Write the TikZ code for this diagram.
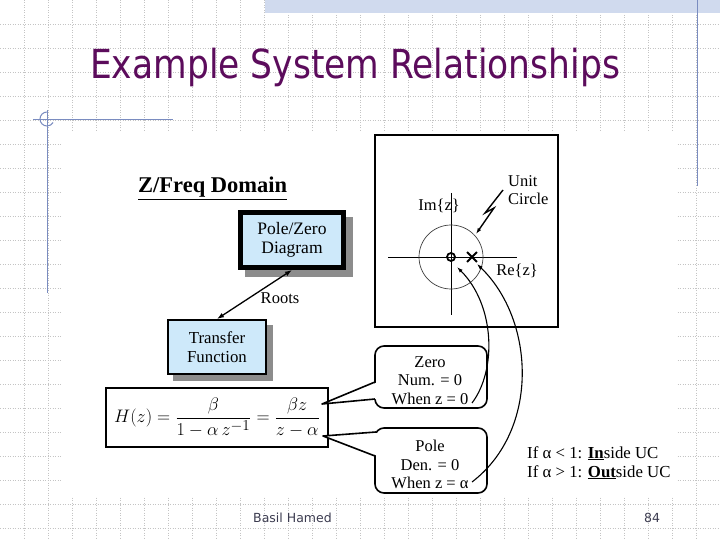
\documentclass[tikz,border=0pt]{standalone}
\usepackage{fontspec}
\setmainfont{Liberation Serif}
\newfontfamily\sansf{DejaVu Sans}
\usetikzlibrary{arrows.meta,shapes.misc}
\definecolor{titlepurple}{RGB}{92,12,92}
\definecolor{deco}{RGB}{122,140,192}
\definecolor{band}{RGB}{208,218,238}
\definecolor{gridc}{RGB}{196,196,196}
\definecolor{boxfill}{RGB}{206,233,250}
\definecolor{shadowc}{RGB}{140,140,140}
\definecolor{footc}{RGB}{60,60,80}
\begin{document}
\begin{tikzpicture}[x=1pt,y=-1pt,
  lbl/.style={font=\fontsize{16.5}{18.5}\selectfont, inner sep=0pt, align=center},
  gridline/.style={gridc, dash pattern=on 1pt off 1.5pt, line width=0.6pt},
  decoline/.style={deco, line width=1pt},
  tip/.style={-{Latex[length=6pt,width=4pt]}},
  callout/.style={draw, fill=white, line width=1.6pt, rounded corners=9pt},
  tailline/.style={line width=1.6pt, line join=round},
  shadowbox/.style={fill=boxfill, inner sep=0pt, align=center}]
\useasboundingbox (0,0) rectangle (720,540);
\fill[white] (0,0) rectangle (720,540);
% background grid
\foreach \i in {1,...,29} \draw[gridline] (\i*24,0) -- (\i*24,540);
\foreach \j in {1,...,22} \draw[gridline] (0,\j*24) -- (720,\j*24);
\fill[band] (265,0) rectangle (720,13);
\fill[white] (62,132) rectangle (677,496);
% template decoration
\draw[decoline] (697,0) -- (697,186);
\draw[decoline] (33,120) -- (173,120);
\draw[decoline] (47,110) -- (47,293);
\draw[decoline] (47,112) arc[start angle=-90, end angle=-330, radius=7];
% title
\node[anchor=base west, inner sep=0pt, text=titlepurple, font=\sansf\fontsize{40}{48}\selectfont] (title) at (90,79) {\scalebox{0.862}[1]{Example System Relationships}};
% heading
\node[anchor=base west, inner sep=0pt, font=\bfseries\fontsize{22.5}{26}\selectfont] (zf) at (138,193) {\underline{Z/Freq Domain}};
% Pole/Zero diagram box
\fill[shadowc] (245,217) rectangle (353,277);
\node[shadowbox, draw, line width=5pt, minimum width=103pt, minimum height=55pt, font=\fontsize{17.5}{19}\selectfont] (pz) at (292,240) {Pole/Zero\\Diagram};
% Transfer function box
\fill[shadowc] (173,325) rectangle (273,381);
\node[shadowbox, draw, line width=2pt, minimum width=98pt, minimum height=54pt, font=\fontsize{16.8}{18.5}\selectfont] (tf) at (217,347) {Transfer\\Function};
% Roots arrow
\draw[line width=1.3pt, {Latex[length=7pt,width=5pt]}-{Latex[length=7pt,width=5pt]}] (tf.north) -- (pz.south);
\node[lbl] (roots) at (280,298) {Roots};
% equation box
\node[draw, line width=1.8pt, minimum width=222pt, minimum height=59pt, inner sep=0pt] (hz) at (217,417.5) {};
\node[inner sep=0pt, font=\fontsize{19}{22}\selectfont] (eq) at (217,417.5) {\scalebox{1.05}{$\displaystyle H(z)=\frac{\beta}{1-\alpha\, z^{-1}}=\frac{\beta z}{z-\alpha}$}};
\coordinate (numtip) at (322,404);
\coordinate (dentip) at (323,436);
% z-plane box
\node[draw, line width=1.5pt, minimum width=183pt, minimum height=192pt, inner sep=0pt] (zp) at (466.5,231) {};
\coordinate (xl) at (388,257); \coordinate (xr) at (517,257);
\coordinate (yt) at (451,193); \coordinate (yb) at (451,315);
\draw[line width=0.8pt] (xl) -- (xr);
\draw[line width=0.8pt] (yt) -- (yb);
\node[circle, draw=black!75, line width=0.7pt, minimum size=64pt, inner sep=0pt] (uc) at (451,257) {};
\node[circle, draw, line width=1.8pt, minimum size=8pt, inner sep=0pt] (zero) at (451,257) {};
\node[cross out, draw, line width=1.8pt, minimum size=8pt, inner sep=0pt] (pole) at (472,257) {};
\node[lbl] (im) at (439,206) {Im\{z\}};
\node[lbl] (re) at (517,271) {Re\{z\}};
\node[lbl, align=left, anchor=west] (unit) at (508,190) {Unit\\Circle};
\coordinate (bolt0) at (503,190);
\coordinate (bolt1) at (485,213);
\coordinate (bolt2) at (494,208);
\coordinate (bolt3) at (476,234);
\draw[line width=1.4pt, tip] (bolt0) -- (bolt1) -- (bolt2) -- (bolt3);
% Zero callout
\draw[callout] (375,346) rectangle (487,408);
\fill[white] (378,382) -- (numtip) -- (378,399) -- cycle;
\draw[tailline] (375,382) -- (numtip) -- (375,399);
\node[lbl] (zc) at (430,380.5) {Zero\\Num. = 0\\When z = 0};
% Pole callout
\draw[callout] (375,428) rectangle (487,493);
\fill[white] (378,433) -- (dentip) -- (378,456) -- cycle;
\draw[tailline] (376,432) -- (dentip) -- (375,456);
\node[lbl] (pc) at (430,464.5) {Pole\\Den. = 0\\When z = α};
% curved arrows
\coordinate (zs) at (472,403);
\coordinate (zt) at (457,267);
\coordinate (ps) at (472,482);
\coordinate (pt) at (477,264);
\draw[line width=1.1pt, tip] (zs) .. controls (497,370) and (495,305) .. (zt);
\draw[line width=1.1pt, tip] (ps) .. controls (540,430) and (535,320) .. (pt);
% conditions
\node[anchor=base west, inner sep=0pt, font=\fontsize{16.8}{18}\selectfont] (c1) at (527,458) {If α < 1: \underline{\textbf{In}}side UC};
\node[anchor=base west, inner sep=0pt, font=\fontsize{16.8}{18}\selectfont] (c2) at (527,477) {If α > 1: \underline{\textbf{Out}}side UC};
% footer
\node[anchor=base west, inner sep=0pt, text=footc, font=\sansf\fontsize{12.5}{14}\selectfont] (foot) at (253,522) {Basil Hamed};
\node[anchor=base west, inner sep=0pt, text=footc, font=\sansf\fontsize{12.5}{14}\selectfont] (page) at (644,522) {84};
\end{tikzpicture}
\end{document}
